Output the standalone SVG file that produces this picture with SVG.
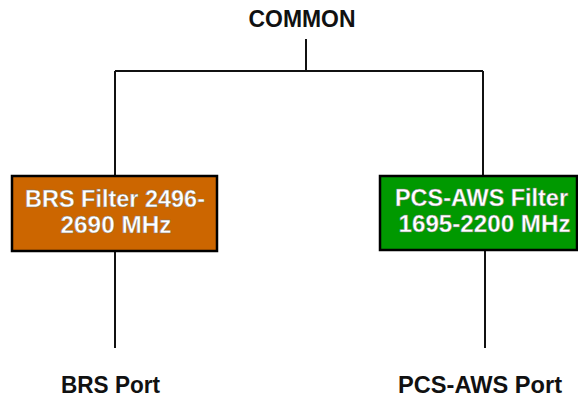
<svg xmlns="http://www.w3.org/2000/svg" width="578" height="398" viewBox="0 0 578 398">
<style>
.lbl{font-family:"Liberation Sans",Arial,sans-serif;font-weight:bold;font-size:23px;fill:#111;}
.box-t{font-family:"Liberation Sans",Arial,sans-serif;font-weight:bold;font-size:23px;fill:#fff;stroke:#777;stroke-width:0.4;}
.box{stroke:#000;stroke-width:2.5;}
.wire{fill:none;stroke:#111;stroke-width:2;}
</style>
<rect width="578" height="398" fill="#fff"/>
<g id="connectors">
<path class="wire" d="M306,39 V71 M115,71 H483 M115,71 V176 M483,71 V176 M115,251 V348 M485,251 V348"/>
</g>
<g id="common">
<text class="lbl" x="302" y="27" text-anchor="middle" font-size="21" textLength="107" lengthAdjust="spacingAndGlyphs">COMMON</text>
</g>
<g id="brs-filter">
<rect class="box" x="12" y="176" width="205" height="75" fill="#CC6600"/>
<text class="box-t" x="115" y="207" text-anchor="middle" textLength="180" lengthAdjust="spacingAndGlyphs">BRS Filter 2496-</text>
<text class="box-t" x="116" y="233" text-anchor="middle" textLength="111" lengthAdjust="spacingAndGlyphs">2690 MHz</text>
</g>
<g id="pcs-filter">
<rect class="box" x="380" y="176" width="197" height="74" fill="#009900"/>
<text class="box-t" x="481.5" y="206" text-anchor="middle" textLength="173" lengthAdjust="spacingAndGlyphs">PCS-AWS Filter</text>
<text class="box-t" x="484.5" y="232" text-anchor="middle" textLength="172" lengthAdjust="spacingAndGlyphs">1695-2200 MHz</text>
</g>
<g id="brs-port">
<text class="lbl" x="110.5" y="393" text-anchor="middle" textLength="99" lengthAdjust="spacingAndGlyphs">BRS Port</text>
</g>
<g id="pcs-port">
<text class="lbl" x="480" y="393" text-anchor="middle" textLength="164" lengthAdjust="spacingAndGlyphs">PCS-AWS Port</text>
</g>
</svg>
